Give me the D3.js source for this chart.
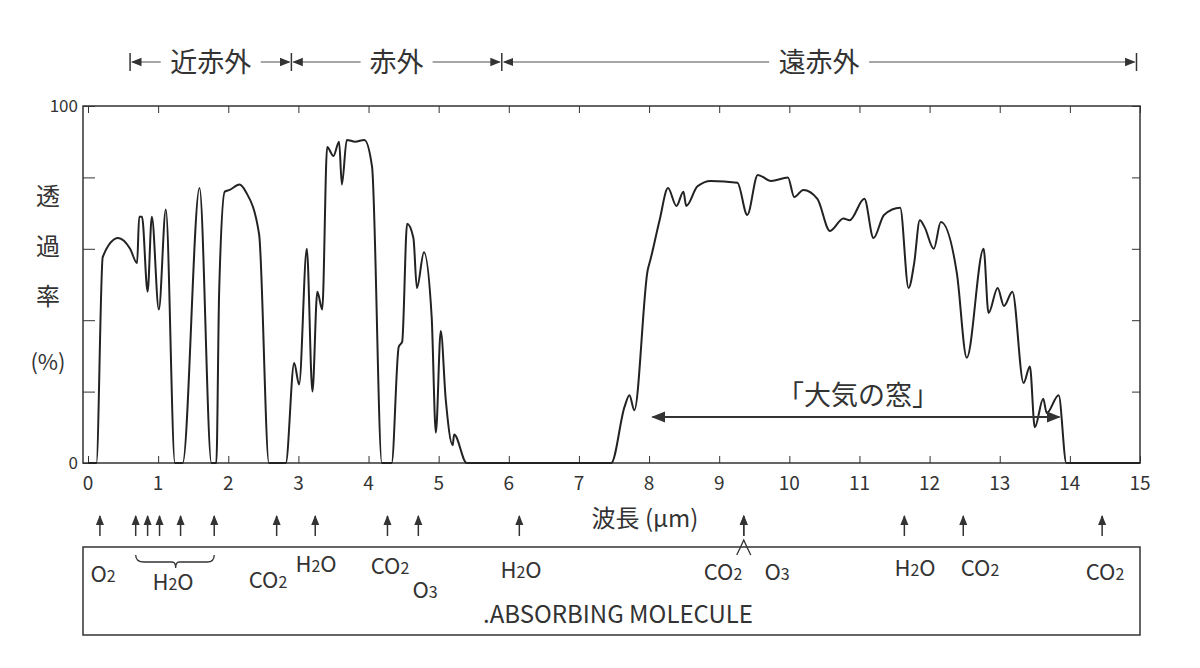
<!DOCTYPE html><html><head><meta charset="utf-8"><script src="https://cdn.jsdelivr.net/npm/d3@7"></script>
<style>body{margin:0;background:#fff}text{font-family:"Noto Sans CJK JP","Noto Sans",sans-serif;fill:#333}</style></head><body><svg id="c" width="1200" height="668"></svg><script>
const wavelength=[0,0.12,0.21,0.43,0.6,0.7,0.73,0.77,0.85,0.91,1.01,1.11,1.24,1.35,1.59,1.76,1.83,1.87,1.95,2.02,2.16,2.25,2.44,2.58,2.82,2.94,3.01,3.12,3.2,3.27,3.34,3.41,3.5,3.58,3.62,3.69,3.81,3.94,4.05,4.19,4.33,4.43,4.48,4.55,4.64,4.69,4.79,4.9,4.96,5.03,5.1,5.2,5.22,5.4,7.46,7.65,7.72,7.79,7.98,8.02,8.15,8.27,8.39,8.49,8.53,8.69,8.88,9.26,9.4,9.55,9.74,9.98,10.07,10.2,10.4,10.58,10.77,10.86,11.07,11.2,11.35,11.58,11.7,11.78,11.86,11.93,12.06,12.16,12.39,12.53,12.77,12.84,12.97,13.06,13.18,13.34,13.43,13.5,13.62,13.67,13.84,13.95,15];
const transmittance=[0,0,57.7,63,60,56,69,69,48,69,43,71,0,0,77,0,0,48,76,76.5,78,76,64,0,0,28,22,60,20,48,43,88.5,86,90,78,90.5,90,90.5,83,0,0,32.5,34,67,63,49,59,41,8.5,37,18,5,8,0,0,15.7,19,14.8,54,57,68,77,72,76,72,77.5,79,78.5,69.5,80.7,79,80,74.5,76.5,74,65,68.5,68,74,63,69.5,71.5,49,56,68,66,60,67.5,53,29.5,60,42,49,44,48,22.4,27,10,18,14,19,0,0];
const xTicks=d3.range(0,16), yTicks=[0,20,40,60,80,100];
const molecules=[["O2",0.17],["",0.68],["",0.85],["",1.02],["",1.32],["",1.8],["CO2",2.69],["H2O",3.24],["CO2",4.27],["O3",4.71],["H2O",6.15],["CO2",9.35],["O3",9.35],["H2O",11.64],["CO2",12.48],["CO2",14.46]];
const bands=[["近赤外",0.6,2.9],["赤外",2.9,5.9],["遠赤外",5.9,14.95]];
const svg=d3.select("#c");
const x=d3.scaleLinear().domain([0,15]).range([88,1140]);
const y=d3.scaleLinear().domain([0,100]).range([463,106]);
const ink="#333";
svg.append("rect").attr("x",83).attr("y",106).attr("width",1057).attr("height",357).attr("fill","none").attr("stroke",ink).attr("stroke-width",1.5);
svg.append("g").attr("transform","translate(0,463)").call(d3.axisTop(x).tickValues(xTicks).tickSize(7).tickFormat("")).call(g=>g.select(".domain").remove()).selectAll("line").attr("stroke",ink);
svg.append("g").attr("transform","translate(0,106)").call(d3.axisBottom(x).tickValues(xTicks).tickSize(7).tickFormat("")).call(g=>g.select(".domain").remove()).selectAll("line").attr("stroke",ink);
svg.selectAll(".xl").data(xTicks).join("text").attr("x",d=>x(d)).attr("y",490).attr("text-anchor","middle").attr("font-size",19).text(d=>d);
svg.append("g").attr("transform","translate(83,0)").call(d3.axisRight(y).tickValues(yTicks).tickSize(12).tickFormat("")).call(g=>g.select(".domain").remove()).selectAll("line").attr("stroke",ink);
svg.append("g").attr("transform","translate(1140,0)").call(d3.axisLeft(y).tickValues(yTicks).tickSize(8).tickFormat("")).call(g=>g.select(".domain").remove()).selectAll("line").attr("stroke",ink);
svg.selectAll(".yl").data([0,100]).join("text").attr("x",78).attr("y",d=>y(d)+6).attr("text-anchor","end").attr("font-size",17).text(d=>d);
["透","過","率"].forEach((c,i)=>svg.append("text").attr("x",48).attr("y",205+i*50).attr("text-anchor","middle").attr("font-size",24).text(c));
svg.append("text").attr("x",48).attr("y",370).attr("text-anchor","middle").attr("font-size",22).text("(%)");
svg.append("path").datum(wavelength.map((w,i)=>[w,transmittance[i]])).attr("fill","none").attr("stroke","#222").attr("stroke-width",2)
 .attr("d",d3.line().x(d=>x(d[0])).y(d=>y(d[1])).curve(d3.curveMonotoneX));
svg.append("text").attr("x",645).attr("y",527).attr("text-anchor","middle").attr("font-size",24).text("波長 (μm)");
const defs=svg.append("defs");
defs.append("marker").attr("id","ah").attr("viewBox","0 0 10 10").attr("refX",9).attr("refY",5).attr("markerWidth",7).attr("markerHeight",7).attr("orient","auto-start-reverse").append("path").attr("d","M0,1L10,5L0,9Z").attr("fill",ink);
// atmospheric window
svg.append("line").attr("x1",x(8.05)).attr("x2",x(13.85)).attr("y1",417).attr("y2",417).attr("stroke",ink).attr("stroke-width",2).attr("marker-start","url(#ah)").attr("marker-end","url(#ah)");
svg.append("text").attr("x",858).attr("y",405).attr("text-anchor","middle").attr("font-size",27).text("「大気の窓」");
// header bands
const hy=62;
[0.6,2.9,5.9,14.95].forEach(v=>svg.append("line").attr("x1",x(v)).attr("x2",x(v)).attr("y1",hy-9).attr("y2",hy+9).attr("stroke",ink).attr("stroke-width",1.5));
bands.forEach(([t,a,b])=>{const m=(x(a)+x(b))/2,hw=t.length*14+8;
 svg.append("line").attr("x1",m-hw).attr("x2",x(a)+2).attr("y1",hy).attr("y2",hy).attr("stroke","#888").attr("stroke-width",1.5).attr("marker-end","url(#ah)");
 svg.append("line").attr("x1",m+hw).attr("x2",x(b)-2).attr("y1",hy).attr("y2",hy).attr("stroke","#888").attr("stroke-width",1.5).attr("marker-end","url(#ah)");
 svg.append("text").attr("x",m).attr("y",hy+10).attr("text-anchor","middle").attr("font-size",27).text(t);});
// molecules
molecules.forEach(([t,w])=>svg.append("line").attr("x1",x(w)).attr("x2",x(w)).attr("y1",536).attr("y2",516).attr("stroke",ink).attr("stroke-width",1.5).attr("marker-end","url(#ah)"));
svg.append("rect").attr("x",83).attr("y",547).attr("width",1057).attr("height",88).attr("fill","none").attr("stroke",ink).attr("stroke-width",1.5);
svg.append("path").attr("d",`M${x(0.68)},555 Q${x(0.68)},562 ${x(0.8)},562 L${x(1.2)},562 Q${x(1.25)},562 ${x(1.25)},568 Q${x(1.25)},562 ${x(1.3)},562 L${x(1.7)},562 Q${x(1.8)},562 ${x(1.8)},555`).attr("fill","none").attr("stroke",ink).attr("stroke-width",1.3);
svg.append("path").attr("d",`M${x(9.25)},555 Q${x(9.3)},548 ${x(9.35)},540 Q${x(9.4)},548 ${x(9.45)},555`).attr("fill","none").attr("stroke",ink).attr("stroke-width",1.3);
const labs=[["O",2,103,582],["H",2,O=173,590],["CO",2,268,588],["H",2,316,572],["CO",2,390,574],["O",3,425,598],["H",2,521,578],["CO",2,723,580],["O",3,777,580],["H",2,915,576],["CO",2,980,576],["CO",2,1105,580]];
labs.forEach(([a,n,lx,ly])=>{const t=svg.append("text").attr("x",lx).attr("y",ly).attr("text-anchor","middle").attr("font-size",22);
 const s=(a=="H")?["H","2","O"]:[a,String(n)];
 s.forEach((p,i)=>t.append("tspan").attr("font-size",/\d/.test(p)?16:22).text(p));});
svg.append("text").attr("x",618).attr("y",623).attr("text-anchor","middle").attr("font-size",24).text(".ABSORBING MOLECULE");
</script></body></html>
